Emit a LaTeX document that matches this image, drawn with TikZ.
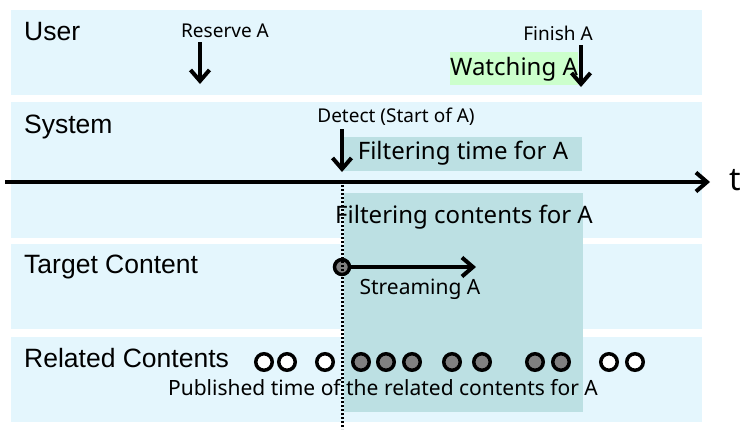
\documentclass[tikz,border=0pt]{standalone}
\usepackage{fontspec}
\setmainfont{Liberation Sans}
\newfontfamily\jfont{Noto Sans}
\usetikzlibrary{arrows.meta}
\definecolor{bandc}{HTML}{E4F6FD}
\definecolor{tealc}{HTML}{BCE0E3}
\definecolor{greenc}{HTML}{CCFFCC}
\definecolor{grayc}{HTML}{808080}
\tikzset{
  band/.style={fill=bandc},
  lbl/.style={anchor=west, inner sep=0pt, font=\fontsize{26.5}{30}\selectfont},
  small/.style={inner sep=0pt, font=\jfont\fontsize{19}{22}\selectfont},
  mid/.style={inner sep=0pt, font=\jfont\fontsize{24}{28}\selectfont},
  med/.style={inner sep=0pt, font=\jfont\fontsize{21}{24}\selectfont},
  chev/.style={-{Straight Barb[length=11pt,width=19pt,line width=4pt]}, line width=4pt},
  dot/.style={circle, draw, line width=3.5pt, minimum size=16.5pt, inner sep=0pt},
  odot/.style={dot, fill=white},
  gdot/.style={dot, fill=grayc},
}
\begin{document}
\begin{tikzpicture}[x=1pt,y=-1pt]
\useasboundingbox (0,0) rectangle (746,429);
% bands
\fill[band] (11,10) rectangle (702,95);
\fill[band] (11,102) rectangle (702,238);
\fill[band] (11,244) rectangle (702,329);
\fill[band] (11,337) rectangle (702,422);
% highlight boxes
\fill[tealc] (344,137) rectangle (582,171);
\fill[tealc] (344,193) rectangle (583,412);
\fill[greenc] (450,52) rectangle (578,85);
% lane labels
\node[lbl] (user) at (24,32) {User};
\node[lbl] (system) at (24,127) {System};
\node[lbl] (target) at (24,267) {Target Content};
\node[lbl] (related) at (24,358) {Related Contents};
% texts
\node[small] (reserve) at (225,31) {Reserve A};
\node[small] (finish) at (558,33) {Finish A};
\node[mid] (watching) at (514,69) {Watching A};
\node[small] (detect) at (396,117) {Detect (Start of A)};
\node[mid] (ftime) at (463,153) {Filtering time for A};
\node[mid] (fcont) at (464,217) {Filtering contents for A};
\node[med] (stream) at (420,289) {Streaming A};
\node[med] (published) at (383,388) {Published time of the related contents for A};
\node[inner sep=0pt, font=\jfont\fontsize{32}{36}\selectfont] (tlabel) at (735,180) {t};
% axis
\coordinate (ax0) at (5,182);
\coordinate (ax1) at (710,182);
\draw[chev] (ax0) -- (ax1);
% event arrows
\coordinate (r0) at (200,42); \coordinate (r1) at (200,84);
\draw[chev] (r0) -- (r1);
\coordinate (f0) at (581,45); \coordinate (f1) at (581,87);
\draw[chev] (f0) -- (f1);
\coordinate (e0) at (342,129); \coordinate (e1) at (342,172);
\draw[chev] (e0) -- (e1);
% target content
\node[dot, fill=grayc, minimum size=15pt, line width=3.5pt] (tc) at (342,267) {};
\coordinate (tend) at (476,267);
\draw[chev] (tc.east) -- (tend);
% related contents
\foreach \x [count=\i] in {264,287,325,609,635} \node[odot] (o\i) at (\x,362) {};
\foreach \x [count=\i] in {361,386,412,452,482,535,561} \node[gdot] (g\i) at (\x,362) {};
% dotted line
\coordinate (d0) at (342,185);
\coordinate (d1) at (342,429);
\draw[line width=3pt, dash pattern=on 2pt off 2pt] (d0) -- (d1);
\end{tikzpicture}
\end{document}
